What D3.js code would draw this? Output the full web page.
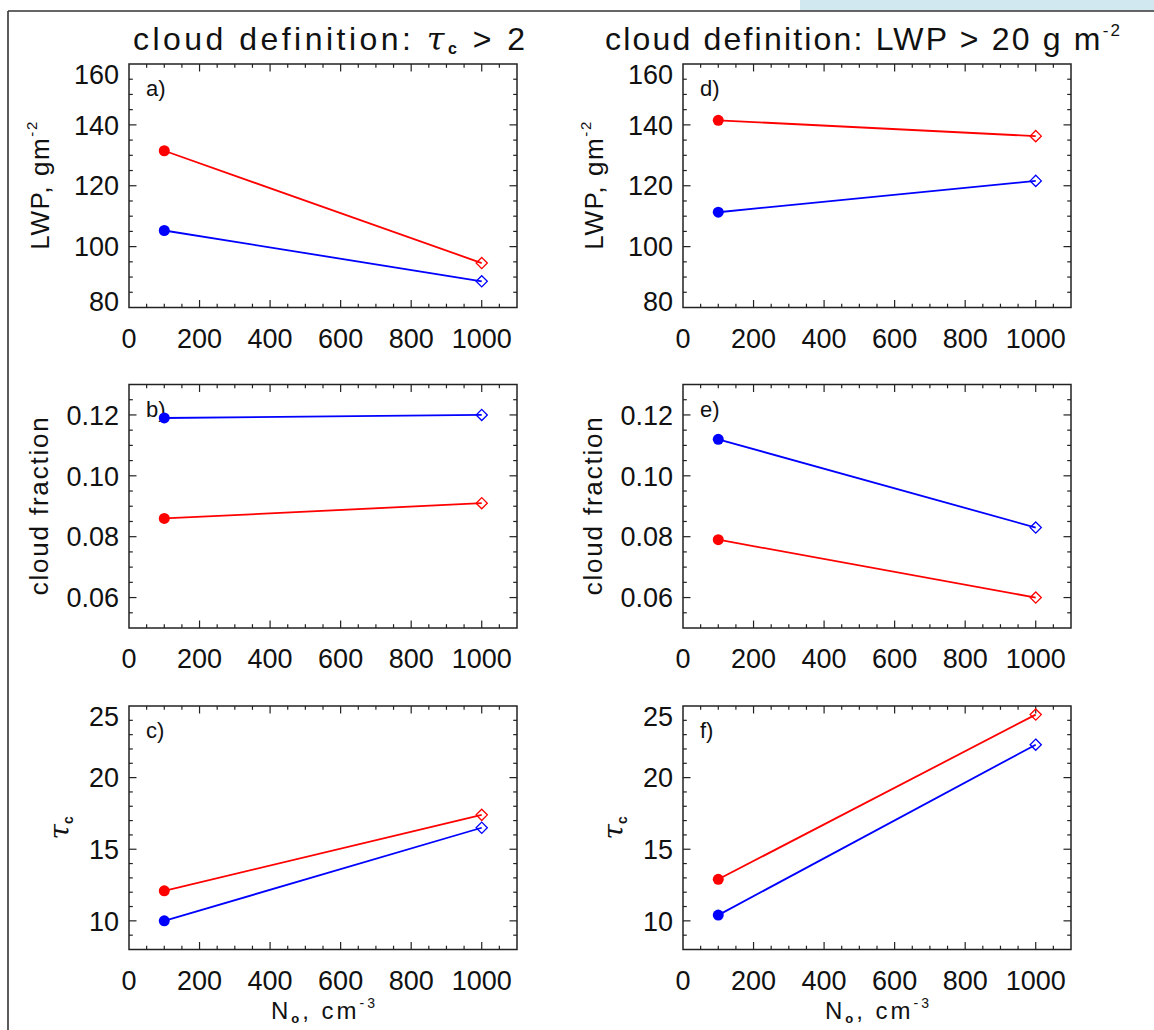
<!DOCTYPE html>
<html>
<head>
<meta charset="utf-8">
<script src="https://cdn.jsdelivr.net/npm/d3@7"></script>
<style>
  html, body { margin: 0; padding: 0; background: #fff; }
  svg { display: block; }
  text { font-family: "Liberation Sans", Arial, sans-serif; fill: #111; }
</style>
</head>
<body>
<svg id="chart" width="1154" height="1030"></svg>
<script>
// ---------------- data ----------------
const nValues = [100, 1000];                 // N0, cm^-3 (x positions of the two points)
const xTicks = [0, 200, 400, 600, 800, 1000];

const lwpTicks = [80, 100, 120, 140, 160];
const cfTicks = [0.06, 0.08, 0.10, 0.12];
const tauTicks = [10, 15, 20, 25];

// left column: cloud definition tau_c > 2
const lwpTauRed  = [131.5, 94.6];
const lwpTauBlue = [105.3, 88.6];
const cfTauRed   = [0.086, 0.091];
const cfTauBlue  = [0.119, 0.120];
const tauTauRed  = [12.1, 17.4];
const tauTauBlue = [10.0, 16.5];

// right column: cloud definition LWP > 20 g m^-2
const lwpLwpRed  = [141.5, 136.3];
const lwpLwpBlue = [111.3, 121.6];
const cfLwpRed   = [0.079, 0.060];
const cfLwpBlue  = [0.112, 0.083];
const tauLwpRed  = [12.9, 24.4];
const tauLwpBlue = [10.4, 22.3];

const panelLetters = ["a)", "b)", "c)", "d)", "e)", "f)"];

// ---------------- layout ----------------
const svg = d3.select("#chart");
const colLeft = [129, 683];
const rowTop = [64, 384.5, 706];
const pw = 388, ph = 243.5;
const RED = "#ff0000", BLUE = "#0000ff", AX = "#222";

// figure frame and top band
svg.append("rect").attr("x", 800).attr("y", 0).attr("width", 354).attr("height", 10.5).attr("fill", "#d2e8f1");
svg.append("line").attr("x1", 8).attr("x2", 1154).attr("y1", 11).attr("y2", 11).attr("stroke", "#333").attr("stroke-width", 1.6);
svg.append("line").attr("x1", 8).attr("x2", 8).attr("y1", 11).attr("y2", 1030).attr("stroke", "#333").attr("stroke-width", 1.6);

const rows = [
  { ticks: lwpTicks, domain: [80, 160], minor: 5, fmt: d => d3.format("d")(d), label: "lwp" },
  { ticks: cfTicks, domain: [0.05, 0.13], minor: 0.005, fmt: d => d3.format(".2f")(d), label: "cf" },
  { ticks: tauTicks, domain: [8, 25], minor: 1, fmt: d => d3.format("d")(d), label: "tau" }
];
const seriesByPanel = [
  [lwpTauRed, lwpTauBlue], [cfTauRed, cfTauBlue], [tauTauRed, tauTauBlue],
  [lwpLwpRed, lwpLwpBlue], [cfLwpRed, cfLwpBlue], [tauLwpRed, tauLwpBlue]
];

function range(a, b, step) {
  const out = [];
  const n = Math.round((b - a) / step);
  for (let i = 0; i <= n; i++) out.push(+(a + i * step).toFixed(6));
  return out;
}

for (let c = 0; c < 2; c++) {
  for (let r = 0; r < 3; r++) {
    const idx = c * 3 + r;
    const row = rows[r];
    const x0 = colLeft[c], y0 = rowTop[r];
    const x = d3.scaleLinear().domain([0, 1100]).range([x0, x0 + pw]);
    const y = d3.scaleLinear().domain(row.domain).range([y0 + ph, y0]);
    const g = svg.append("g");

    // minor & major ticks on all four sides
    const xMinor = range(0, 1100, 50).filter(v => v > 0 && v < 1100);
    const yMinor = range(row.domain[0], row.domain[1], row.minor).filter(v => v > row.domain[0] + 1e-9 && v < row.domain[1] - 1e-9);
    const isMajorX = v => xTicks.some(t => Math.abs(t - v) < 1e-6);
    const isMajorY = v => row.ticks.some(t => Math.abs(t - v) < 1e-9);

    xMinor.forEach(v => {
      const L = isMajorX(v) ? 7.5 : 3.8;
      g.append("line").attr("x1", x(v)).attr("x2", x(v)).attr("y1", y0 + ph).attr("y2", y0 + ph - L).attr("stroke", AX).attr("stroke-width", 1.2);
      g.append("line").attr("x1", x(v)).attr("x2", x(v)).attr("y1", y0).attr("y2", y0 + L).attr("stroke", AX).attr("stroke-width", 1.2);
    });
    yMinor.forEach(v => {
      const L = isMajorY(v) ? 7.5 : 3.8;
      g.append("line").attr("x1", x0).attr("x2", x0 + L).attr("y1", y(v)).attr("y2", y(v)).attr("stroke", AX).attr("stroke-width", 1.2);
      g.append("line").attr("x1", x0 + pw).attr("x2", x0 + pw - L).attr("y1", y(v)).attr("y2", y(v)).attr("stroke", AX).attr("stroke-width", 1.2);
    });

    // frame
    g.append("rect").attr("x", x0).attr("y", y0).attr("width", pw).attr("height", ph)
      .attr("fill", "none").attr("stroke", AX).attr("stroke-width", 1.5);

    // x tick labels
    g.selectAll(".xl").data(xTicks).enter().append("text")
      .attr("x", d => x(d)).attr("y", y0 + ph + 40)
      .attr("text-anchor", "middle").attr("font-size", 27).text(d => d3.format("d")(d));

    // y tick labels (end labels nudged inside like the reference)
    g.selectAll(".yl").data(row.ticks).enter().append("text")
      .attr("x", x0 - 10)
      .attr("y", d => Math.max(y0 + 10.5, Math.min(y0 + ph - 6, y(d))))
      .attr("dy", "0.36em")
      .attr("text-anchor", "end").attr("font-size", 27).text(row.fmt);

    // panel letter
    g.append("text").attr("x", x0 + 17).attr("y", y0 + 32).attr("font-size", 22).text(panelLetters[idx]);

    // series
    const [redVals, blueVals] = seriesByPanel[idx];
    [[redVals, RED], [blueVals, BLUE]].forEach(([vals, col]) => {
      const pts = nValues.map((n, i) => [x(n), y(vals[i])]);
      g.append("path").attr("d", d3.line()(pts)).attr("fill", "none").attr("stroke", col).attr("stroke-width", 1.8);
      g.append("circle").attr("cx", pts[0][0]).attr("cy", pts[0][1]).attr("r", 5.5).attr("fill", col);
      const s = 5.6;
      const [dx, dy] = pts[1];
      g.append("path").attr("d", `M${dx},${dy - s}L${dx + s},${dy}L${dx},${dy + s}L${dx - s},${dy}Z`)
        .attr("fill", "none").attr("stroke", col).attr("stroke-width", 1.3);
    });

    // y-axis title
    const cy = y0 + ph / 2;
    if (row.label === "lwp") {
      const t = g.append("text").attr("transform", `translate(${x0 - 80},${cy}) rotate(-90)`)
        .attr("text-anchor", "middle").attr("font-size", 26).attr("textLength", 128).attr("lengthAdjust", "spacing");
      t.append("tspan").text("LWP,  gm");
      t.append("tspan").attr("font-size", 15).attr("dy", -12).text("-2");
    } else if (row.label === "cf") {
      g.append("text").attr("transform", `translate(${x0 - 81},${cy}) rotate(-90)`)
        .attr("text-anchor", "middle").attr("font-size", 26).attr("textLength", 178).attr("lengthAdjust", "spacing")
        .text("cloud fraction");
    } else {
      const t = g.append("text").attr("transform", `translate(${x0 - 60},${cy}) rotate(-90)`)
        .attr("text-anchor", "middle").attr("font-size", 28);
      t.append("tspan").attr("font-style", "italic").attr("font-family", "DejaVu Serif, serif").text("τ");
      t.append("tspan").attr("font-size", 14).attr("font-weight", "bold").attr("dy", 4).text("c");
    }

    // x-axis title under bottom panels
    if (r === 2) {
      const t = g.append("text").attr("x", x0 + pw / 2).attr("y", 1019)
        .attr("text-anchor", "middle").attr("font-size", 24).attr("textLength", 104).attr("lengthAdjust", "spacing");
      t.append("tspan").text("N");
      t.append("tspan").attr("font-size", 13).attr("font-weight", "bold").attr("dy", 4).text("o");
      t.append("tspan").attr("dy", -4).text(",  cm");
      t.append("tspan").attr("font-size", 14).attr("dy", -11).text("-3");
    }
  }
}

// column titles
{
  const t = svg.append("text").attr("x", 133).attr("y", 50).attr("font-size", 32)
    .attr("textLength", 392).attr("lengthAdjust", "spacing");
  t.append("tspan").text("cloud definition: ");
  t.append("tspan").attr("font-style", "italic").attr("font-family", "DejaVu Serif, serif").text("τ");
  t.append("tspan").attr("font-size", 16).attr("font-weight", "bold").attr("dy", 4).text("c");
  t.append("tspan").attr("dy", -4).text(" > 2");
}
{
  const t = svg.append("text").attr("x", 605).attr("y", 50).attr("font-size", 32)
    .attr("textLength", 515).attr("lengthAdjust", "spacing");
  t.append("tspan").text("cloud definition: LWP > 20 g m");
  t.append("tspan").attr("font-size", 17).attr("dy", -14).text("-2");
}
</script>
</body>
</html>
